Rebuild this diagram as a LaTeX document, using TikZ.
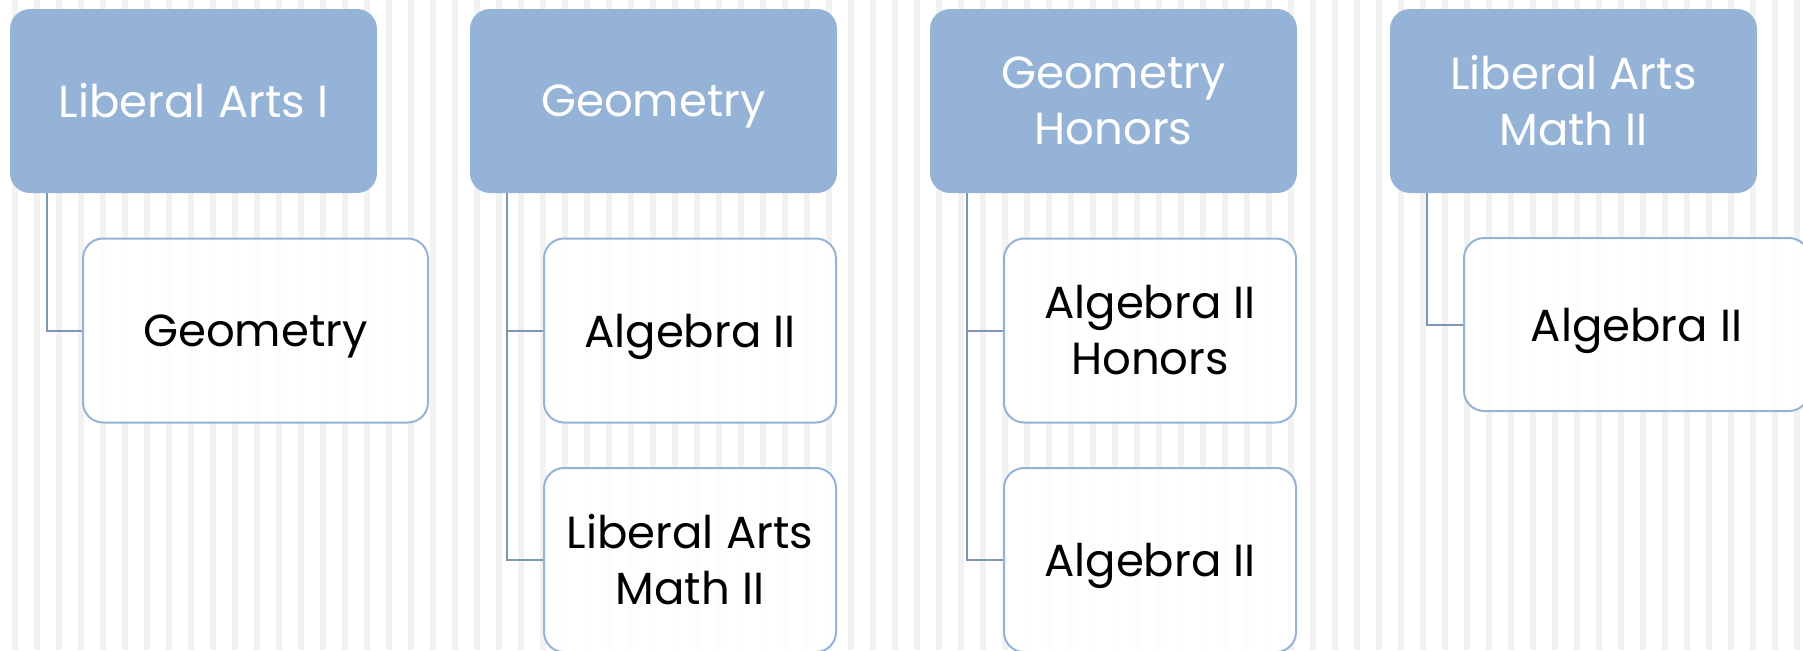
\documentclass[tikz,border=0pt]{standalone}
\usepackage{fontspec}
\setmainfont{Poppins}
\usetikzlibrary{positioning}
\definecolor{topblue}{HTML}{95B3D7}
\definecolor{linkblue}{HTML}{7F96B3}
\definecolor{stripegray}{HTML}{F2F2F2}
\newcommand\ColShift{460}
\tikzset{
  course/.style={
    shape = rectangle,
    rounded corners = 10pt,
    fill = topblue,
    text = white,
    align = center,
    inner sep = 0pt,
    minimum width = 183.5pt,
    minimum height = 92pt,
    font = \fontsize{22.5}{28}\selectfont
  },
}
\tikzset{
  next/.style={
    shape = rectangle,
    rounded corners = 10pt,
    draw = topblue,
    line width = 1pt,
    fill = white,
    fill opacity = 0.9,
    text opacity = 1,
    text = black,
    align = center,
    inner sep = 0pt,
    minimum height = 92pt,
    font = \fontsize{22.5}{28}\selectfont
  },
  oneline/.style={
    text depth = 0pt
  },
  link/.style={
    draw = linkblue,
    line width = 1pt
  }
}

\begin{document}
\begin{tikzpicture}[x=0.5pt, y=-0.5pt]
    \useasboundingbox (0,0) rectangle (1803,650);
    % stripes
    \foreach \s in {0,...,81}
        \fill[stripegray] (12+22*\s,0) rectangle ++(6,650);

    % top row
    \node[course] (p1) at (193.5,101) {Liberal Arts I};
    \node[course, oneline] (p2) at (193.5+\ColShift,101) {Geometry};
    \node[course] (p3) at (193.5+2*\ColShift,101) {Geometry\\Honors};
    \node[course] (p4) at (193.5+3*\ColShift,101) {Liberal Arts\\Math II};

    % what comes next
    \node[next, oneline, minimum width=172.5pt] (c1) at (255.5,330.5) {Geometry};
    \node[next, oneline, minimum width=146pt] (c2a) at (690,330.5) {Algebra II};
    \node[next, minimum width=146pt] (c2b) at (690,560) {Liberal Arts\\Math II};
    \node[next, minimum width=146pt] (c3a) at (690+\ColShift,330.5) {Algebra II\\Honors};
    \node[next, oneline, minimum width=146pt] (c3b) at (690+\ColShift,560) {Algebra II};
    \node[next, oneline, minimum width=172.5pt, minimum height=86.5pt] (c4) at (1636.5,324.5) {Algebra II};

    \draw[link] ([xshift=18.5pt]p1.south west) |- (c1.west);
    \draw[link] ([xshift=18.5pt]p2.south west) |- (c2a.west);
    \draw[link] ([xshift=18.5pt]p2.south west) |- (c2b.west);
    \draw[link] ([xshift=18.5pt]p3.south west) |- (c3a.west);
    \draw[link] ([xshift=18.5pt]p3.south west) |- (c3b.west);
    \draw[link] ([xshift=18.5pt]p4.south west) |- (c4.west);
\end{tikzpicture}
\end{document}
